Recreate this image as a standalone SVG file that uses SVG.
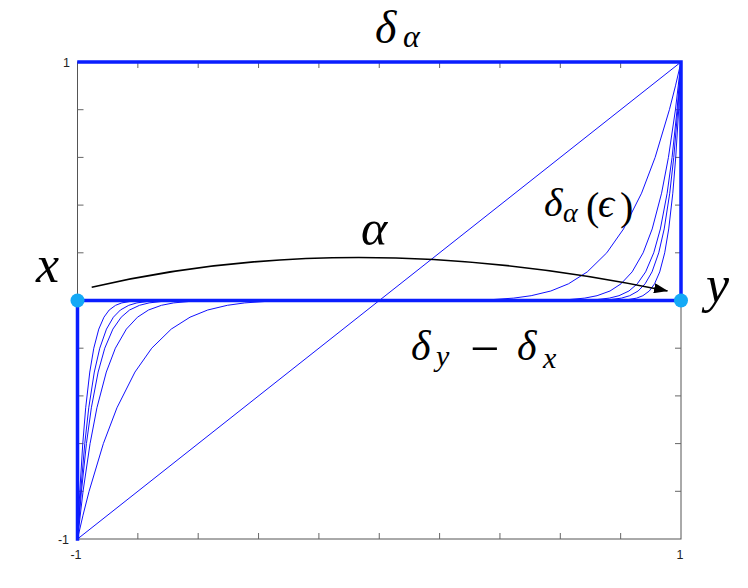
<svg xmlns="http://www.w3.org/2000/svg" width="748" height="588" viewBox="0 0 748 588">
<style>
.ax{stroke:#555;stroke-width:1;fill:none}
.tk{stroke:#666;stroke-width:1;fill:none}
.tl{font-family:'Liberation Sans',Arial,sans-serif;font-size:12.5px;fill:#222}
.thin{stroke:#1010ff;stroke-width:1;fill:none}
.thick{stroke:#0a1eff;stroke-width:3.5;fill:none;stroke-linecap:square}
.dot{fill:#14a9f6}
.m{font-family:'Liberation Serif','DejaVu Serif',serif;font-style:italic;fill:#000}
.r{font-family:'Liberation Serif','DejaVu Serif',serif;font-style:normal;fill:#000}
</style>
<defs>
<marker id="ah" viewBox="0 0 14 10" refX="13.5" refY="5" markerWidth="14" markerHeight="10" orient="auto" markerUnits="userSpaceOnUse"><path d="M0,0 L14,5 L0,10 Z" fill="#000"/></marker>
</defs>
<rect width="748" height="588" fill="#fff"/>
<g id="axes">
<rect class="ax" x="77.5" y="62" width="603.5" height="477"/>
<path class="tk" d="M137.85,539v-6M198.2,539v-6M258.55,539v-6M318.9,539v-6M379.25,539v-6M439.6,539v-6M499.95,539v-6M560.3,539v-6M620.65,539v-6
M137.85,62v6M198.2,62v6M258.55,62v6M318.9,62v6M379.25,62v6M439.6,62v6M499.95,62v6M560.3,62v6M620.65,62v6
M77.5,109.7h6M77.5,157.4h6M77.5,205.1h6M77.5,252.8h6M77.5,300.5h6M77.5,348.2h6M77.5,395.9h6M77.5,443.6h6M77.5,491.3h6
M681,109.7h-6M681,157.4h-6M681,205.1h-6M681,252.8h-6M681,300.5h-6M681,348.2h-6M681,395.9h-6M681,443.6h-6M681,491.3h-6"/>
<text class="tl" x="70" y="67" text-anchor="end">1</text>
<text class="tl" x="69" y="544" text-anchor="end">-1</text>
<text class="tl" x="76" y="559" text-anchor="middle">-1</text>
<text class="tl" x="680" y="559" text-anchor="middle">1</text>
</g>
<g id="curves">
<path class="thin" d="M77.5,539L681,62"/>
<path class="thin" d="M77.5,539 83.02,515.15 89.08,491.3 103.36,443.6 116.94,407.8 134.96,372.05 151.73,348.2 171.23,329.1 190,317.2 207.7,310 227.34,305.3 244.74,302.9 264.71,301.5 289.44,300.74 379.25,300.5 469.06,300.26 493.79,299.5 513.76,298.1 531.16,295.7 550.8,291 568.5,283.8 587.27,271.9 606.77,252.8 623.54,228.95 641.56,193.2 655.14,157.4 669.42,109.7 675.48,85.85 681,62"/>
<path class="thin" d="M77.5,539 83.06,491.3 90.07,443.6 96.92,407.8 106.31,372.05 115.37,348.2 126.37,329.1 137.48,317.2 148.5,310 161.45,305.3 173.67,302.9 188.79,301.5 209.56,300.74 379.25,300.5 548.94,300.26 569.71,299.5 584.83,298.1 597.05,295.7 610,291 621.02,283.8 632.13,271.9 643.13,252.8 652.19,228.95 661.58,193.2 668.43,157.4 675.44,109.7 681,62"/>
<path class="thin" d="M77.5,539 81.43,491.3 86.43,443.6 91.35,407.8 98.13,372.05 104.76,348.2 112.88,329.1 121.2,317.2 129.55,310 139.53,305.3 149.11,302.9 161.18,301.5 178.25,300.74 379.25,300.5 580.25,300.26 597.32,299.5 609.39,298.1 618.97,295.7 628.95,291 637.3,283.8 645.62,271.9 653.74,252.8 660.37,228.95 667.15,193.2 672.07,157.4 677.07,109.7 681,62"/>
<path class="thin" d="M77.5,539 80.69,491.3 84.75,443.6 88.76,407.8 94.31,372.05 99.76,348.2 106.48,329.1 113.39,317.2 120.38,310 128.78,305.3 136.92,302.9 147.26,301.5 162.09,300.74 379.25,300.5 596.41,300.26 611.24,299.5 621.58,298.1 629.72,295.7 638.12,291 645.11,283.8 652.02,271.9 658.74,252.8 664.19,228.95 669.74,193.2 673.75,157.4 677.81,109.7 681,62"/>
<path class="thin" d="M77.5,539 79.81,491.3 82.77,443.6 85.7,407.8 89.77,372.05 93.79,348.2 98.78,329.1 103.94,317.2 109.2,310 115.58,305.3 121.81,302.9 129.81,301.5 141.46,300.74 379.25,300.5 617.04,300.26 628.69,299.5 636.69,298.1 642.92,295.7 649.3,291 654.56,283.8 659.72,271.9 664.71,252.8 668.73,228.95 672.8,193.2 675.73,157.4 678.69,109.7 681,62"/>
</g>
<g id="edges">
<path class="thick" d="M79,62H681V300.5H77.5V539"/>
</g>
<g id="labels">
<text class="m" x="375" y="43" font-size="46">δ</text>
<text class="m" x="403" y="47" font-size="32">α</text>
<text class="m" x="544" y="216" font-size="40">δ</text>
<text class="m" x="563" y="222" font-size="28">α</text>
<text class="r" x="586" y="220" font-size="40">(</text>
<text class="m" x="598" y="217" font-size="40">ϵ</text>
<text class="r" x="620" y="220" font-size="40">)</text>
<text class="m" x="411" y="360" font-size="42">δ</text>
<text class="m" x="436" y="366" font-size="30">y</text>
<text class="r" x="470" y="366" font-size="52">−</text>
<text class="m" x="517" y="360" font-size="42">δ</text>
<text class="m" x="543" y="368" font-size="30">x</text>
</g>
<g id="connectors">
<path d="M91.7,287.3Q354.6,225.9 667.5,291" fill="none" stroke="#000" stroke-width="1.6" marker-end="url(#ah)"/>
<text class="m" x="361" y="245" font-size="50">α</text>
</g>
<g id="node-x">
<circle class="dot" cx="77.5" cy="300.5" r="7"/>
<text class="m" x="36" y="282" font-size="52">x</text>
</g>
<g id="node-y">
<circle class="dot" cx="681" cy="300.5" r="7"/>
<text class="m" x="706" y="302" font-size="52">y</text>
</g>
</svg>
